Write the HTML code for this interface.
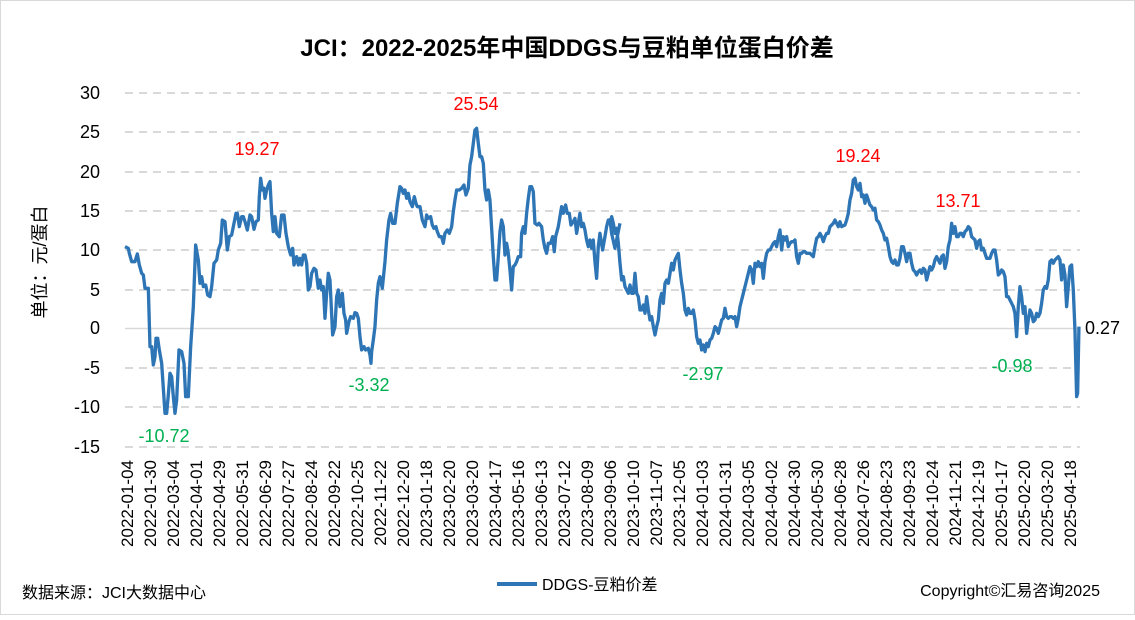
<!DOCTYPE html>
<html><head><meta charset="utf-8"><style>
html,body{margin:0;padding:0;background:#fff}
body{width:1135px;height:615px;overflow:hidden;font-family:"Liberation Sans","Noto Sans CJK SC",sans-serif}
</style></head><body>
<svg width="1135" height="615" xmlns="http://www.w3.org/2000/svg" font-family="Liberation Sans, Noto Sans CJK SC, sans-serif">
<rect x="0.5" y="0.5" width="1134" height="614" fill="#fff" stroke="#d9d9d9"/>
<text x="567" y="56" text-anchor="middle" font-size="24" font-weight="bold" fill="#000">JCI：2022-2025年中国DDGS与豆粕单位蛋白价差</text>
<g stroke="#d9d9d9" stroke-width="2" stroke-dasharray="8,6">
<line x1="125" x2="1080" y1="93" y2="93"/><line x1="125" x2="1080" y1="132" y2="132"/>
<line x1="125" x2="1080" y1="172" y2="172"/><line x1="125" x2="1080" y1="211" y2="211"/>
<line x1="125" x2="1080" y1="250" y2="250"/><line x1="125" x2="1080" y1="290" y2="290"/>
<line x1="125" x2="1080" y1="368" y2="368"/><line x1="125" x2="1080" y1="407" y2="407"/>
<line x1="125" x2="1080" y1="447" y2="447"/>
</g>
<line x1="125" x2="1080" y1="328.5" y2="328.5" stroke="#d9d9d9" stroke-width="1.5"/>
<g font-size="18" fill="#000" text-anchor="end">
<text x="100" y="99">30</text><text x="100" y="138">25</text><text x="100" y="178">20</text>
<text x="100" y="217">15</text><text x="100" y="256">10</text><text x="100" y="296">5</text>
<text x="100" y="334">0</text><text x="100" y="374">-5</text><text x="100" y="413">-10</text>
<text x="100" y="453">-15</text>
</g>
<text transform="translate(46,262) rotate(-90)" text-anchor="middle" font-size="18" fill="#000">单位：元/蛋白</text>
<g transform="translate(110,80) scale(0.3333)" fill="none" stroke="#2e75b6" stroke-width="10" stroke-linejoin="round">
<polyline points="45,500 55,505 58,520 65,545 75,545 82,522 88,555 95,580 100,585 105,625 115,625 120,800 125,800 130,855 135,830 138,775 143,775 148,810 155,850 165,1000 170,1000 175,945 180,880 185,890 190,950 195,1000 200,960 207,810 215,815 222,850 227,950 235,950 242,800 250,680 257,495 265,540 270,610 275,590 280,620 287,615 293,645 300,650 305,620 312,550 320,540 325,510 332,490 337,420 345,425 352,510 358,470 365,465 372,430 378,400 382,400 388,440 395,410 400,410 405,425 412,450 420,405 425,410 432,448 438,425 445,420 448,350 452,295 457,330 462,325 465,355 470,330 475,315 480,305 485,400 490,455 495,410 500,460 508,470 515,405 522,405 528,460 535,500 542,525 548,505 552,555 560,530 565,555 570,535 575,555 580,525 585,525 590,550 595,630 600,620 605,580 612,565 618,570 625,625 630,600 635,630 640,620 645,715 650,640 655,580 660,600 668,765 675,740 680,650 685,630 690,680 697,640 702,700 707,720 710,760 717,725 722,710 730,715 735,698 740,700 745,715 750,770 755,810 762,800 767,810 775,805 780,825 783,850 785,815 790,780 795,740 800,660 805,610 810,590 817,625 825,545 830,480 837,420 842,400 848,430 855,430 862,370 870,320 875,325 880,340 885,330 890,355 895,340 900,365 907,380 913,350 918,370 922,380 930,380 937,420 945,440 950,405 955,415 962,410 967,435 972,445 978,440 982,455 988,470 995,470 1000,490 1005,460 1012,450 1018,460 1025,440 1030,395 1035,360 1040,330 1048,330 1055,325 1062,315 1068,345 1075,325 1080,255 1085,230 1090,190 1095,150 1100,145 1105,190 1110,230 1115,230 1120,250 1125,330 1130,360 1135,330 1140,360 1145,445 1150,530 1155,600 1160,600 1165,530 1170,455 1175,420 1180,440 1185,525 1190,490 1195,520 1200,570 1205,630 1210,560 1215,555 1220,545 1225,530 1232,530 1235,460 1240,440 1245,460 1250,400 1255,355 1260,320 1265,320 1270,335 1275,430 1282,435 1287,430 1295,440 1300,480 1305,505 1310,520 1315,490 1322,490 1328,470 1333,515 1337,470 1345,440 1350,410 1355,380 1360,400 1367,375 1372,400 1378,400 1383,435 1390,425 1395,415 1400,460 1405,430 1410,400 1415,440 1420,430 1425,450 1430,480 1435,500 1440,480 1445,505 1450,480 1455,545 1460,595 1465,500 1470,460 1478,510 1485,470 1490,440 1495,420 1500,420 1505,460 1515,505 1520,480 1530,430"/>
</g>
<g transform="translate(600,80) scale(0.3333)" fill="none" stroke="#2e75b6" stroke-width="10" stroke-linejoin="round">
<polyline points="30,430 35,410 40,430 45,460 50,445 55,490 60,550 65,600 70,590 75,620 80,630 85,640 90,615 95,640 100,640 105,580 110,640 115,650 120,690 125,690 130,675 135,700 140,650 145,690 150,720 155,710 160,740 165,765 170,740 175,720 180,660 185,640 190,670 195,610 200,600 205,610 210,580 215,550 220,570 225,540 230,530 235,520 240,570 245,610 250,640 255,690 260,705 265,685 270,700 275,700 280,690 285,720 290,770 295,790 300,780 305,810 310,795 315,815 320,790 325,800 330,780 335,775 340,760 345,740 350,745 355,760 360,740 365,720 370,715 375,685 380,710 385,715 390,710 395,710 400,715 405,710 410,740 415,715 420,680 425,660 430,640 435,620 440,600 445,580 450,560 455,570 460,610 465,550 470,560 475,545 480,560 485,550 490,595 495,545 500,520 505,510 510,510 515,500 520,490 525,485 530,500 535,470 540,450 545,510 550,470 555,480 560,470 565,500 570,490 575,485 580,485 585,480 590,530 595,550 600,520 605,520 610,515 615,515 620,520 630,520 640,530 645,500 650,475 655,470 660,460 665,470 670,485 675,470 680,460 685,460 690,440 700,430 705,420 710,430 715,440 720,425 725,440 735,435 740,420 745,400 750,360 755,340 760,300 765,295 770,320 775,330 780,310 785,350 790,345 795,370 800,345 805,360 810,375 815,380 820,390 825,385 830,420 835,425 840,435 845,450 850,460 855,480 860,475 865,500 870,530 875,545 880,550 885,540 890,555 895,555 900,535 905,500 910,500 915,520 920,545 925,520 930,520 935,550 940,570 945,575 950,585 955,575 960,570 965,580 970,565 975,570 980,600 985,580 990,560 995,570 1000,560 1005,540 1010,530 1015,540 1020,550 1025,530 1030,525 1035,565 1040,545 1045,500 1050,480 1055,430 1060,460 1065,440 1070,470 1075,470 1080,460 1085,460 1090,470 1095,455 1100,450 1105,440 1110,445 1115,470 1120,475 1125,480 1130,505 1135,485 1140,480 1145,510 1150,505 1155,520 1160,535 1165,535 1170,535 1175,520 1180,510 1185,510 1190,540 1195,585 1200,580 1205,570 1210,575 1215,590 1220,650 1225,650 1230,660 1235,670 1240,680 1245,700 1250,770 1255,680 1260,620 1265,650 1270,700 1275,680 1280,760 1285,720 1290,690 1295,700 1300,725 1305,720 1310,700 1315,710 1320,700 1325,670 1330,630 1335,620 1340,625 1345,600 1350,545 1355,540 1360,550 1365,540 1370,535 1375,530 1380,540 1385,600 1390,555 1395,585 1400,680 1405,620 1410,560 1415,555 1420,630 1425,750 1430,950 1433,940 1437,740"/>
</g>
<g font-size="18" fill="#ff0000" text-anchor="middle">
<text x="257" y="155">19.27</text><text x="476" y="110">25.54</text>
<text x="858" y="162">19.24</text><text x="958" y="207">13.71</text>
</g>
<g font-size="18" fill="#00b050" text-anchor="middle">
<text x="164" y="442">-10.72</text><text x="369" y="391">-3.32</text>
<text x="703" y="380">-2.97</text><text x="1012" y="372">-0.98</text>
</g>
<text x="1085" y="334" font-size="18" fill="#000">0.27</text>
<line x1="497" x2="537" y1="584" y2="584" stroke="#2e75b6" stroke-width="4"/>
<text x="542" y="590" font-size="16" fill="#000">DDGS-豆粕价差</text>
<text x="22" y="598" font-size="16" fill="#000">数据来源：JCI大数据中心</text>
<text x="1100" y="596" font-size="16" fill="#000" text-anchor="end">Copyright©汇易咨询2025</text>
<g font-size="17" fill="#000" text-anchor="end">
<text transform="translate(133,460) rotate(-90)">2022-01-04</text>
<text transform="translate(156,460) rotate(-90)">2022-01-30</text>
<text transform="translate(179,460) rotate(-90)">2022-03-04</text>
<text transform="translate(202,460) rotate(-90)">2022-04-01</text>
<text transform="translate(225,460) rotate(-90)">2022-04-29</text>
<text transform="translate(248,460) rotate(-90)">2022-05-31</text>
<text transform="translate(271,460) rotate(-90)">2022-06-29</text>
<text transform="translate(294,460) rotate(-90)">2022-07-27</text>
<text transform="translate(317,460) rotate(-90)">2022-08-24</text>
<text transform="translate(340,460) rotate(-90)">2022-09-22</text>
<text transform="translate(363,460) rotate(-90)">2022-10-25</text>
<text transform="translate(386,460) rotate(-90)">2022-11-22</text>
<text transform="translate(409,460) rotate(-90)">2022-12-20</text>
<text transform="translate(432,460) rotate(-90)">2023-01-18</text>
<text transform="translate(455,460) rotate(-90)">2023-02-20</text>
<text transform="translate(478,460) rotate(-90)">2023-03-20</text>
<text transform="translate(501,460) rotate(-90)">2023-04-17</text>
<text transform="translate(524,460) rotate(-90)">2023-05-16</text>
<text transform="translate(547,460) rotate(-90)">2023-06-13</text>
<text transform="translate(570,460) rotate(-90)">2023-07-12</text>
<text transform="translate(593,460) rotate(-90)">2023-08-09</text>
<text transform="translate(616,460) rotate(-90)">2023-09-06</text>
<text transform="translate(639,460) rotate(-90)">2023-10-10</text>
<text transform="translate(662,460) rotate(-90)">2023-11-07</text>
<text transform="translate(685,460) rotate(-90)">2023-12-05</text>
<text transform="translate(708,460) rotate(-90)">2024-01-03</text>
<text transform="translate(731,460) rotate(-90)">2024-01-31</text>
<text transform="translate(754,460) rotate(-90)">2024-03-05</text>
<text transform="translate(777,460) rotate(-90)">2024-04-02</text>
<text transform="translate(800,460) rotate(-90)">2024-04-30</text>
<text transform="translate(823,460) rotate(-90)">2024-05-30</text>
<text transform="translate(846,460) rotate(-90)">2024-06-28</text>
<text transform="translate(869,460) rotate(-90)">2024-07-26</text>
<text transform="translate(892,460) rotate(-90)">2024-08-23</text>
<text transform="translate(915,460) rotate(-90)">2024-09-23</text>
<text transform="translate(938,460) rotate(-90)">2024-10-24</text>
<text transform="translate(961,460) rotate(-90)">2024-11-21</text>
<text transform="translate(984,460) rotate(-90)">2024-12-19</text>
<text transform="translate(1007,460) rotate(-90)">2025-01-17</text>
<text transform="translate(1030,460) rotate(-90)">2025-02-20</text>
<text transform="translate(1053,460) rotate(-90)">2025-03-20</text>
<text transform="translate(1076,460) rotate(-90)">2025-04-18</text>
</g>
</svg>
</body></html>
